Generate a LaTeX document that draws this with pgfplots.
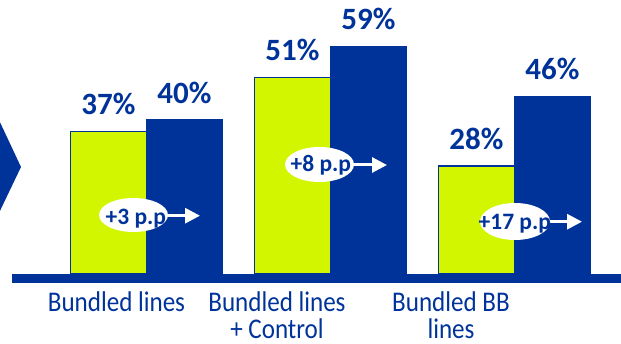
\documentclass[border=0pt]{standalone}
\usepackage{pgfplots}
\pgfplotsset{compat=1.18}
\usepackage{fontspec}
\setmainfont{Carlito}
\newfontfamily\catfont[FakeStretch=0.88]{Carlito}
\usetikzlibrary{arrows.meta}
\definecolor{lime}{HTML}{D2F500}
\definecolor{navy}{HTML}{003399}

\begin{document}
\begin{tikzpicture}
\begin{axis}[
  scale only axis, width=621pt, height=343pt,
  xmin=0.20380, xmax=3.57880,
  ymin=-17.876, ymax=70.984,
  hide axis,
  ybar, bar width=76pt,
  clip=false,
  /pgf/number format/assume math mode=true,
  nodes near coords={\pgfmathprintnumber{\pgfplotspointmeta}\%},
  every node near coord/.append style={anchor=base, yshift=16.5pt,
     font=\fontsize{31}{31}\selectfont\bfseries, text=navy, inner sep=0pt},
]
\addplot[fill=lime, draw=navy, line width=1.2pt, bar shift=-38pt] coordinates {(1,37) (2,51) (3,28)};
\addplot[fill=navy, draw=navy, line width=0pt, bar shift=38pt] coordinates {(1,40) (2,59) (3,46)};
\end{axis}
\begin{scope}[shift={(current axis.north west)}, x=1pt, y=-1pt]
  % baseline
  \fill[navy] (12,274) rectangle (621,282.7);
  % chevron
  \fill[navy] (-2,118) -- (21,167) -- (-2,215) -- cycle;
  % annotations
  \fill[white] (133.5,215) ellipse [x radius=34.5, y radius=17];
  \draw[white, line width=3pt, -{Triangle[length=15pt,width=15pt]}] (167,215.7) -- (200,215.7);
  \node[anchor=base, inner sep=0pt, text=navy, font=\fontsize{23.5}{23.5}\selectfont\bfseries] at (135.8,225) {+3 p.p};
  \fill[white] (319.5,164.5) ellipse [x radius=34.5, y radius=17.5];
  \draw[white, line width=3pt, -{Triangle[length=15pt,width=15pt]}] (353,165) -- (387,165);
  \node[anchor=base, inner sep=0pt, text=navy, font=\fontsize{23.5}{23.5}\selectfont\bfseries] at (320.8,171.7) {+8 p.p};
  \fill[white] (515,221.5) ellipse [x radius=35, y radius=18.5];
  \draw[white, line width=3pt, -{Triangle[length=15pt,width=15pt]}] (549,221.7) -- (582,221.7);
  \node[anchor=base, inner sep=0pt, text=navy, font=\fontsize{23.5}{23.5}\selectfont\bfseries] at (514.8,230) {+17 p.p};
  % category labels
  \begin{scope}[every node/.style={anchor=base, inner sep=0pt, text=navy, align=center, font=\catfont\fontsize{28.5}{27}\selectfont}]
    \node at (116.5,311.7) {Bundled lines};
    \node at (277,338.7) {Bundled lines\\+ Control};
    \node at (451,338.7) {Bundled BB\\lines};
  \end{scope}
\end{scope}
\pgfresetboundingbox
\useasboundingbox (current axis.south west) rectangle (current axis.north east);
\end{tikzpicture}
\end{document}
